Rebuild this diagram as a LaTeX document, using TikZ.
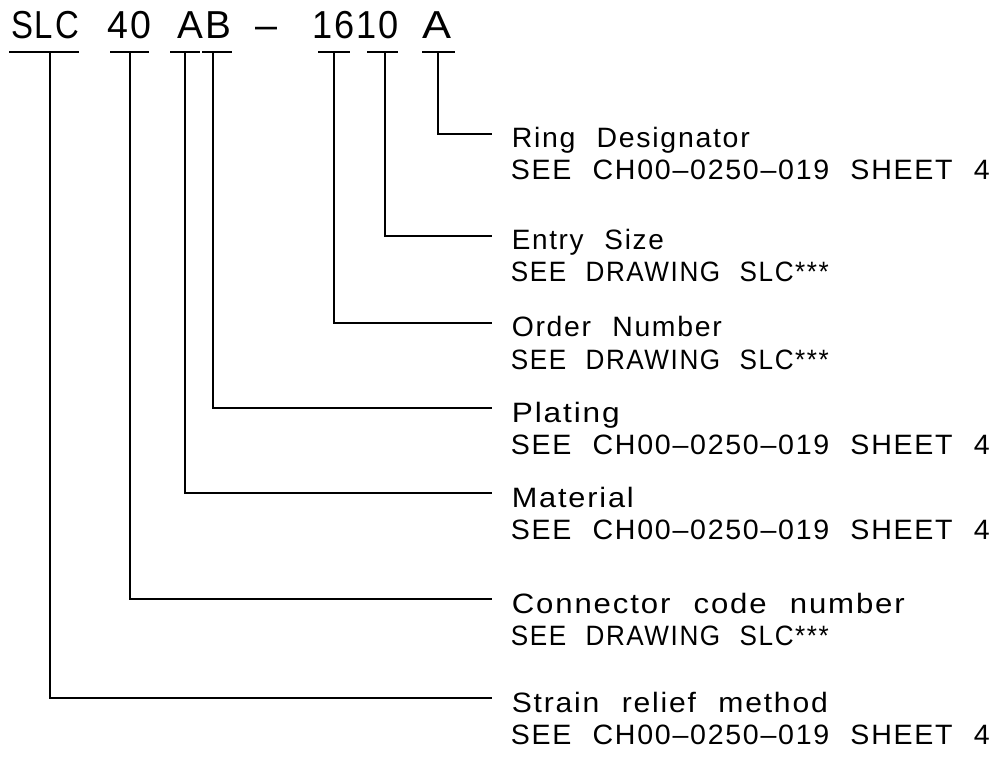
\documentclass[tikz,border=0pt]{standalone}
\usepackage{fontspec}
\usepackage{graphicx}
\setmainfont{Liberation Sans}[LetterSpace=6.0,WordSpace=2.2]
\newcommand\fitw[2]{\resizebox{#1pt}{\height}{#2}}
\begin{document}
\begin{tikzpicture}[x=1pt,y=-1pt,line width=1.6pt,
  title/.style={anchor=base,inner sep=0pt,font=\fontsize{39}{44}\selectfont},
  lab/.style={anchor=base west,inner sep=0pt,font=\fontsize{28}{32}\selectfont}]
\useasboundingbox[fill=white] (0,0) rectangle (995,783);
% title
\node[title] (tSLC) at (45,39) {\fitw{68}{SLC}};
\node[title] (t40) at (129,39) {\fitw{44}{40}};
\node[title] (tAB) at (204,39) {\fitw{54}{AB}};
\node[title] (tdash) at (266,39) {\fitw{22}{–}};
\node[title] (t1610) at (355.5,39) {\fitw{87}{1610}};
\node[title] (tA) at (437,39) {\fitw{29}{A}};
% underline bars
\foreach \n/\l/\r/\j in {SLC/9/79/50, 40/110/149/130, A1/170/200/185, B/202/232/213, 16/318/350/334, 10/367/398/385, A2/422/455/438} {
  \coordinate (l\n) at (\l,52);
  \coordinate (r\n) at (\r,52);
  \coordinate (j\n) at (\j,52);
  \draw (l\n) -- (r\n);
}
% leader ends
\coordinate (eRing) at (492,134);
\coordinate (eEntry) at (492,236);
\coordinate (eOrder) at (492,323);
\coordinate (ePlat) at (492,408);
\coordinate (eMat) at (492,493);
\coordinate (eConn) at (492,599);
\coordinate (eStr) at (492,698);
\draw (jA2) |- (eRing);
\draw (j10) |- (eEntry);
\draw (j16) |- (eOrder);
\draw (jB) |- (ePlat);
\draw (jA1) |- (eMat);
\draw (j40) |- (eConn);
\draw (jSLC) |- (eStr);
% labels
\node[lab] (ring) at (511,148) {\fitw{238}{Ring Designator}};
\node[lab] (ring2) at (510,180) {\fitw{479}{SEE CH00–0250–019 SHEET 4}};
\node[lab] (entry) at (511,250) {\fitw{152}{Entry Size}};
\node[lab] (entry2) at (510,282) {\fitw{318}{SEE DRAWING SLC***}};
\node[lab] (order) at (511,337) {\fitw{210}{Order Number}};
\node[lab] (order2) at (510,369) {\fitw{318}{SEE DRAWING SLC***}};
\node[lab] (plat) at (511,422) {\fitw{108}{Plating}};
\node[lab] (plat2) at (510,454) {\fitw{479}{SEE CH00–0250–019 SHEET 4}};
\node[lab] (mat) at (511,507) {\fitw{122}{Material}};
\node[lab] (mat2) at (510,539) {\fitw{479}{SEE CH00–0250–019 SHEET 4}};
\node[lab] (conn) at (511,613) {\fitw{393}{Connector code number}};
\node[lab] (conn2) at (510,645) {\fitw{318}{SEE DRAWING SLC***}};
\node[lab] (str) at (511,712) {\fitw{316}{Strain relief method}};
\node[lab] (str2) at (510,744) {\fitw{479}{SEE CH00–0250–019 SHEET 4}};
\end{tikzpicture}
\end{document}
